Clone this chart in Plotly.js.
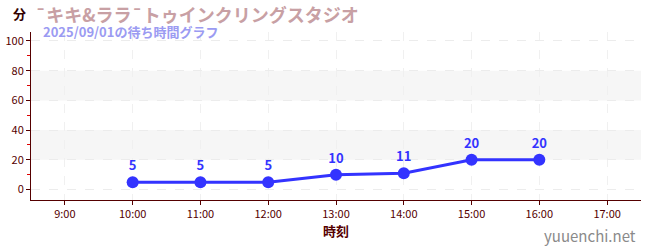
<!DOCTYPE html>
<html><head><meta charset="utf-8">
<script src="https://cdn.plot.ly/plotly-3.0.1.min.js"></script>
<style>body{margin:0;background:#fff}#c{width:650px;height:250px}</style>
</head><body><div id="c"></div>
<script>
const times = ["10:00","11:00","12:00","13:00","14:00","15:00","16:00"];
const waits = [5, 5, 5, 10, 11, 20, 20];
const day = "2025-09-01";
const titleText = "¯キキ&ララ¯トゥインクリングスタジオ";
const subtitleText = "2025/09/01の待ち時間グラフ";
const yUnit = "分";
const xTitle = "時刻";
const watermark = "yuuenchi.net";
const bands = [[20,40],[60,80]];

const font = "'Noto Sans CJK JP', 'Noto Sans', sans-serif";
const axisCol = "#550000";
const x = times.map(t => day + " " + t);

const shapes = bands.map(b => ({type:"rect", xref:"paper", yref:"y", x0:0, x1:1, y0:b[0], y1:b[1],
  fillcolor:"#f6f6f6", line:{width:0}, layer:"below"}));

Plotly.newPlot("c", [{
  x: x, y: waits, type:"scatter", mode:"lines+markers+text",
  line:{color:"#3333ff", width:3}, marker:{color:"#3333ff", size:12},
  text: waits.map(String), textposition:"top center",
  textfont:{color:"#3333ff", size:13, family:font, weight:"bold"},
  cliponaxis:false, hoverinfo:"skip"
}], {
  width:650, height:250, margin:{l:31, r:9, t:32, b:50},
  paper_bgcolor:"#fff", plot_bgcolor:"#fff", showlegend:false,
  font:{family:font, color:axisCol},
  xaxis:{type:"date", range:[day+" 08:30", day+" 17:30"], dtick:3600000, tick0:day+" 09:00",
    tickformat:"%-H:%M", showgrid:true, gridcolor:"#f0f0f0", griddash:"dash", gridwidth:1,
    showline:true, linecolor:axisCol, linewidth:1, ticks:"outside", ticklen:4, tickcolor:axisCol,
    tickfont:{size:11, color:axisCol, family:font}, zeroline:false,
    title:{text:xTitle, font:{size:13, color:axisCol, family:font, weight:"bold"}, standoff:6}},
  yaxis:{range:[-7, 106], dtick:20, tick0:0, showgrid:true, gridcolor:"#ececec", griddash:"dash",
    showline:true, linecolor:axisCol, linewidth:1, ticks:"outside", ticklen:4, tickcolor:axisCol,
    tickfont:{size:11, color:axisCol, family:font}, zeroline:false,
    minor:{dtick:10, tick0:0, ticks:"outside", ticklen:3, tickcolor:"#dd0000", showgrid:false}},
  shapes: shapes,
  annotations:[
    {text:titleText, xref:"paper", yref:"paper", x:0, xshift:2, y:1, yshift:33, xanchor:"left", yanchor:"top",
      showarrow:false, font:{size:18, color:"#c8a0a4", family:font, weight:"bold"}},
    {text:subtitleText, xref:"paper", yref:"paper", x:0.016, y:1, yshift:12, xanchor:"left", yanchor:"top",
      showarrow:false, font:{size:13, color:"#9b9bf2", family:font, weight:"bold"}},
    {text:yUnit, xref:"paper", yref:"paper", x:0, xshift:-12, y:1, yshift:30, xanchor:"center", yanchor:"top",
      showarrow:false, font:{size:13, color:"#330000", family:font, weight:"bold"}},
    {text:watermark, xref:"paper", yref:"paper", x:1, xshift:-3, y:0, yshift:-23, xanchor:"right", yanchor:"top",
      showarrow:false, font:{size:15, color:"#8a8a8a", family:font}}
  ]
}, {displayModeBar:false, staticPlot:true});
</script></body></html>
